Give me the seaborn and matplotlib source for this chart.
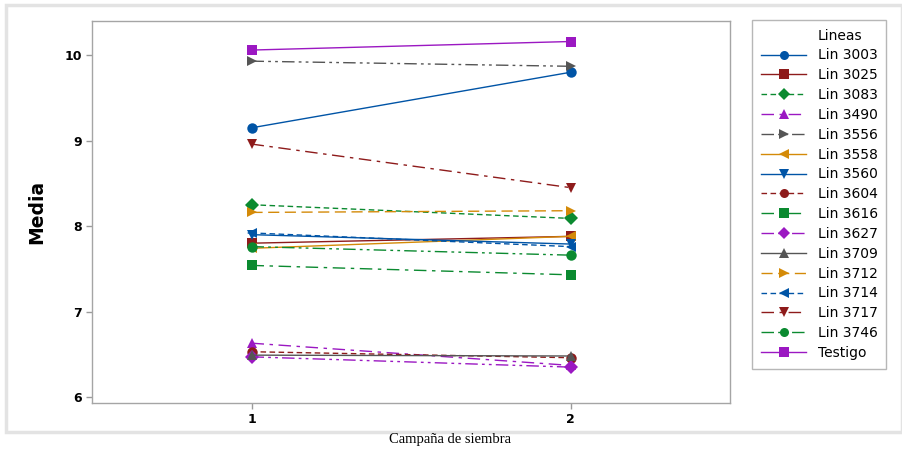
import matplotlib
matplotlib.use("Agg")
import matplotlib.pyplot as plt
from matplotlib.lines import Line2D
from matplotlib.patches import Rectangle
import pandas as pd
import seaborn as sns

# Mean value per line for each sowing campaign
lineas = ["Lin 3003", "Lin 3025", "Lin 3083", "Lin 3490", "Lin 3556", "Lin 3558",
          "Lin 3560", "Lin 3604", "Lin 3616", "Lin 3627", "Lin 3709", "Lin 3712",
          "Lin 3714", "Lin 3717", "Lin 3746", "Testigo"]
campanas = [1, 2]
media_c1 = [9.15, 7.80, 8.25, 6.63, 9.93, 7.74, 7.90, 6.53, 7.54, 6.47, 6.49, 8.16,
            7.92, 8.96, 7.76, 10.06]
media_c2 = [9.80, 7.88, 8.09, 6.37, 9.87, 7.88, 7.79, 6.46, 7.43, 6.35, 6.48, 8.18,
            7.76, 8.45, 7.66, 10.16]
yticks = [6, 7, 8, 9, 10]

BLUE, RED, GREEN = "#0054A6", "#8E1B1B", "#0B8A30"
PURPLE, GREY, ORANGE = "#9B18C2", "#555555", "#D48A08"

colors = [BLUE, RED, GREEN, PURPLE, GREY, ORANGE, BLUE, RED, GREEN, PURPLE,
          GREY, ORANGE, BLUE, RED, GREEN, PURPLE]
marks = ["o", "s", "D", "^", ">", "<", "v", "o", "s", "D", "^", ">", "<", "v", "o", "s"]
solid = ""
dash = (4, 2.5)
long_short = (9, 4, 2.5, 4)
long_two = (9, 3, 2, 3, 2, 3)
long_dash = (8, 4)
dash_styles = [solid, solid, dash, long_short, long_two, solid, solid, dash,
               long_short, long_two, solid, long_dash, dash, long_short, long_two, solid]

df = pd.DataFrame({
    "Linea": lineas * 2,
    "Campaña": [campanas[0]] * len(lineas) + [campanas[1]] * len(lineas),
    "Media": media_c1 + media_c2,
})

fig = plt.figure(figsize=(9.03, 4.55), dpi=100)
fig.patches.append(Rectangle((6 / 903, 1 - 432 / 455), 896 / 903, 427 / 455,
                             transform=fig.transFigure, fill=False,
                             edgecolor="#e3e3e3", linewidth=2.5))
ax = fig.add_axes([92 / 903, 1 - 403 / 455, 638 / 903, 382 / 455])

sns.lineplot(data=df, x="Campaña", y="Media", hue="Linea", style="Linea",
             hue_order=lineas, style_order=lineas,
             palette=dict(zip(lineas, colors)),
             markers=dict(zip(lineas, marks)),
             dashes=dict(zip(lineas, dash_styles)),
             linewidth=1.0, markersize=7.5, markeredgewidth=0,
             ax=ax, legend="full")

ax.set_xlim(0.5, 2.5)
ax.set_ylim(5.93, 10.4)
ax.set_xticks(campanas)
ax.set_xticklabels([str(c) for c in campanas], fontsize=9, fontweight="bold")
ax.set_yticks(yticks)
ax.set_yticklabels([str(t) for t in yticks], fontsize=9, fontweight="bold")
ax.tick_params(direction="out", length=4, color="#9a9a9a", width=1, pad=3)
for s in ax.spines.values():
    s.set_color("#a5a5a5")
    s.set_linewidth(1.0)
ax.set_xlabel("")
ax.set_ylabel("Media", fontsize=13.5, fontweight="bold", labelpad=13)

fig.text(450 / 903, 1 - 440 / 455, "Campaña de siembra", ha="center", va="center",
         family="Liberation Serif", fontsize=10.5)

handles, labels = ax.get_legend_handles_labels()
for h in handles:
    h.set_markeredgewidth(0)
    h.set_markersize(6.5)
title_handle = Line2D([], [], linestyle="none", marker=None)
leg = ax.legend([title_handle] + handles, ["Lineas"] + labels,
                loc="upper left", bbox_to_anchor=(752 / 903, 1 - 20 / 455),
                bbox_transform=fig.transFigure, frameon=True, fancybox=False,
                edgecolor="#a5a5a5", fontsize=10, handlelength=3.3,
                labelspacing=0.42, borderpad=0.62, handletextpad=0.8,
                borderaxespad=0)
leg.get_frame().set_linewidth(1.0)

fig.savefig("out.png", dpi=100)
